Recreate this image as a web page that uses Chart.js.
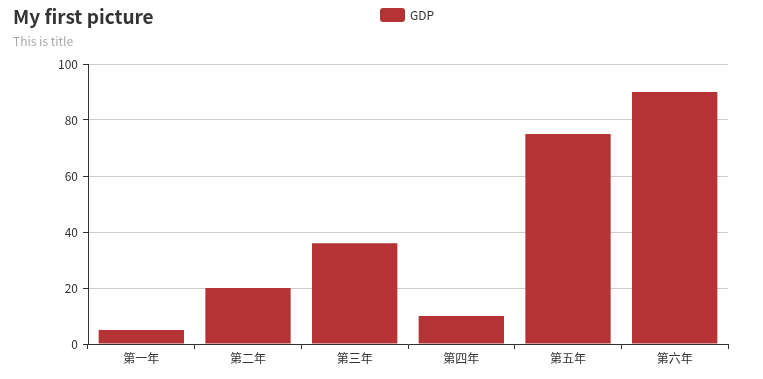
<!DOCTYPE html>
<html><head><meta charset="utf-8">
<script src="https://cdn.jsdelivr.net/npm/chart.js@4/dist/chart.umd.min.js"></script>
<style>
html,body{margin:0;padding:0;background:#fff;}
#wrap{position:relative;width:763px;height:379px;}
#title{position:absolute;left:13px;top:2px;font:bold 19px "Noto Sans CJK SC","Noto Sans",sans-serif;color:#333;}
#sub{position:absolute;left:13px;top:32px;font:12px "Noto Sans CJK SC","Noto Sans",sans-serif;color:#aaa;}
canvas{position:absolute;left:0;top:0;}
</style></head>
<body><div id="wrap"><canvas id="c" width="763" height="379"></canvas>
<div id="title">My first picture</div><div id="sub">This is title</div></div>
<script>
const categories = ['第一年','第二年','第三年','第四年','第五年','第六年'];
const seriesName = 'GDP';
const gdpValues = [5, 20, 36, 10, 75, 90];
const yTicks = [0, 20, 40, 60, 80, 100];

const FONT = '"Noto Sans CJK SC","Noto Sans",sans-serif';
const BAR = '#b63335';

const legendPlugin = {
  id: 'customLegend',
  afterDraw(chart) {
    const ctx = chart.ctx;
    const label = chart.data.datasets[0].label;
    ctx.save();
    ctx.fillStyle = BAR;
    const x = 380, y = 8, w = 25, h = 14, r = 3;
    ctx.beginPath();
    ctx.roundRect(x, y, w, h, r);
    ctx.fill();
    ctx.fillStyle = '#333';
    ctx.font = '12px ' + FONT;
    ctx.textBaseline = 'middle';
    ctx.fillText(label, x + w + 5, y + h / 2);
    ctx.restore();
  }
};

new Chart(document.getElementById('c'), {
  type: 'bar',
  data: {
    labels: categories,
    datasets: [{
      label: seriesName,
      data: gdpValues,
      backgroundColor: BAR,
      barPercentage: 0.8,
      categoryPercentage: 1.0
    }]
  },
  options: {
    responsive: false,
    animation: false,
    layout: { padding: { top: 64, right: 35, left: 0, bottom: 0 } },
    plugins: { legend: { display: false }, tooltip: { enabled: false }, title: { display: false } },
    scales: {
      x: {
        offset: true,
        grid: { offset: true, drawOnChartArea: false, tickLength: 5, tickColor: '#333', color: '#333' },
        border: { color: '#333', width: 1 },
        ticks: { color: '#333', font: { family: FONT, size: 12 }, padding: 2, maxRotation: 0 },
        afterFit(s) { s.height = 35; }
      },
      y: {
        min: 0, max: 100,
        afterBuildTicks(s) { s.ticks = yTicks.map(v => ({ value: v })); },
        grid: { color: '#ccc', tickLength: 5, tickColor: '#333' },
        border: { color: '#333', width: 1 },
        ticks: { color: '#333', font: { family: FONT, size: 12 }, padding: 5 },
        afterFit(s) { s.width = 88; }
      }
    }
  },
  plugins: [legendPlugin]
});
</script></body></html>
